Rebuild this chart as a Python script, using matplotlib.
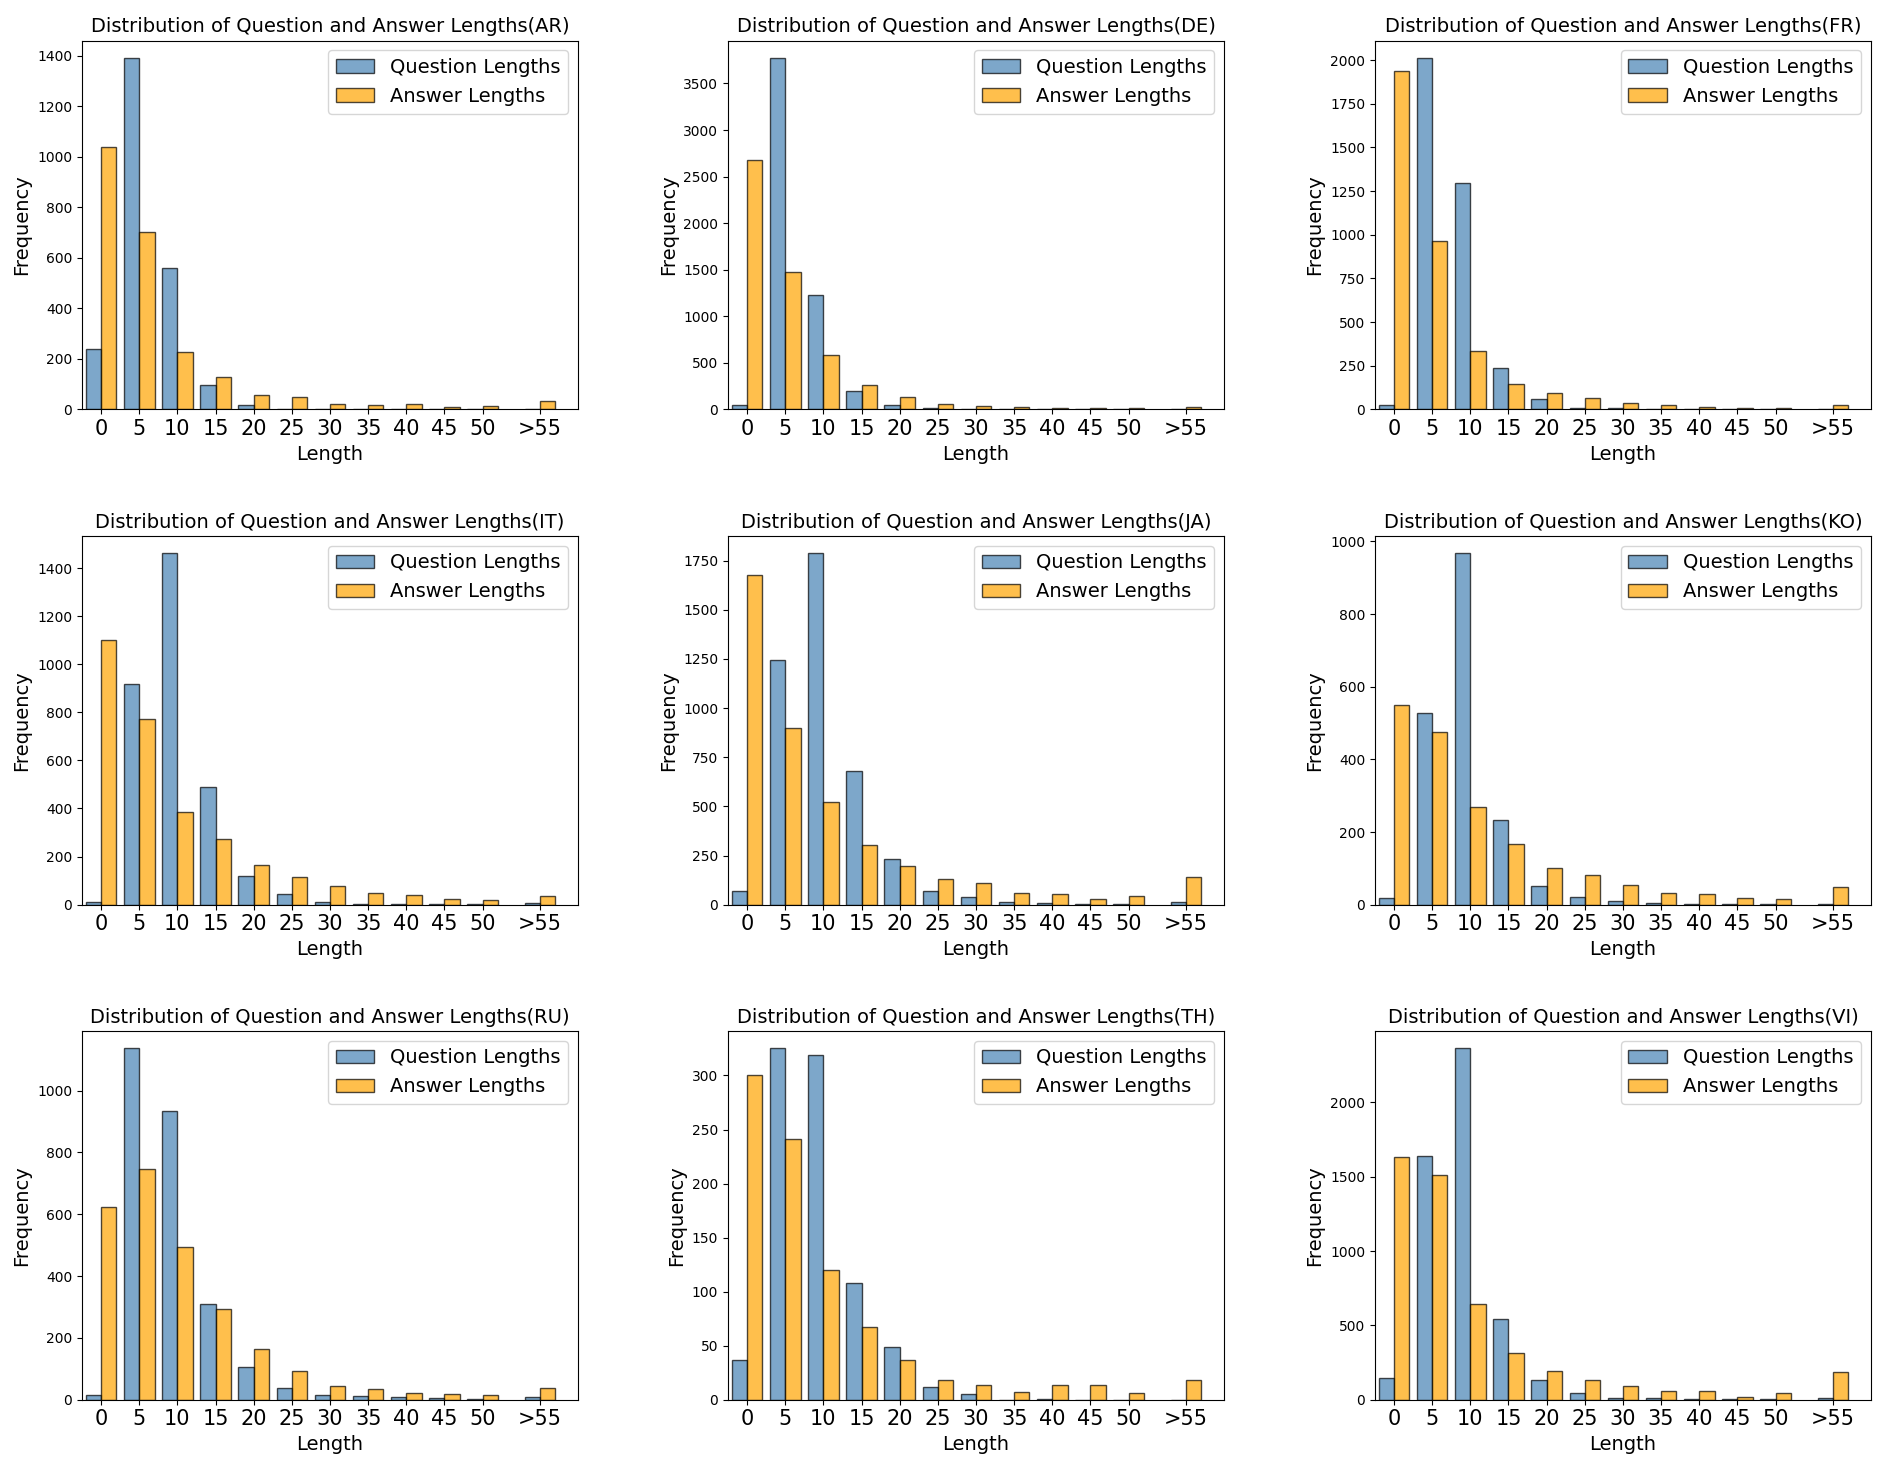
import matplotlib
matplotlib.use("Agg")
import matplotlib.pyplot as plt
import numpy as np

tick_labels = ["0", "5", "10", "15", "20", "25", "30", "35", "40", "45", "50", ">55"]
positions = [0, 5, 10, 15, 20, 25, 30, 35, 40, 45, 50, 57.5]
languages = ["AR", "DE", "FR", "IT", "JA", "KO", "RU", "TH", "VI"]

q_ar = [240, 1390, 559, 96, 16, 3, 2, 1, 2, 1, 1, 1]
a_ar = [1037, 700, 227, 129, 57, 48, 20, 17, 20, 9, 13, 33]
q_de = [43, 3772, 1224, 197, 47, 10, 5, 3, 2, 2, 1, 2]
a_de = [2677, 1471, 583, 258, 129, 61, 36, 25, 14, 14, 12, 20]
q_fr = [23, 2011, 1294, 239, 57, 6, 10, 3, 2, 2, 1, 2]
a_fr = [1935, 964, 334, 145, 95, 63, 34, 23, 13, 10, 9, 25]
q_it = [10, 918, 1461, 488, 119, 43, 12, 3, 4, 1, 1, 5]
a_it = [1100, 772, 386, 274, 163, 113, 79, 50, 42, 25, 21, 35]
q_ja = [69, 1245, 1787, 679, 234, 68, 39, 14, 8, 3, 2, 12]
a_ja = [1675, 900, 523, 302, 195, 130, 110, 61, 53, 27, 42, 142]
q_ko = [18, 527, 967, 234, 52, 20, 10, 5, 2, 3, 2, 2]
a_ko = [550, 475, 269, 168, 102, 82, 55, 33, 28, 17, 15, 48]
q_ru = [16, 1136, 934, 310, 107, 39, 16, 12, 8, 5, 2, 8]
a_ru = [624, 745, 495, 292, 165, 94, 45, 34, 20, 19, 16, 39]
q_th = [37, 325, 319, 108, 49, 12, 5, 0, 1, 0, 0, 0]
a_th = [300, 241, 120, 67, 37, 18, 14, 7, 14, 14, 6, 18]
q_vi = [143, 1639, 2363, 546, 134, 45, 9, 9, 3, 3, 3, 9]
a_vi = [1635, 1514, 645, 316, 193, 130, 94, 60, 58, 20, 45, 186]

questions = [q_ar, q_de, q_fr, q_it, q_ja, q_ko, q_ru, q_th, q_vi]
answers = [a_ar, a_de, a_fr, a_it, a_ja, a_ko, a_ru, a_th, a_vi]

fig = plt.figure(figsize=(18.9, 14.65), dpi=100)

col_left = [0.0434, 0.3852, 0.7275]
row_bottom = [0.7206, 0.3825, 0.0446]
w, h = 0.2624, 0.2517

x = np.array(positions)
for i, lang in enumerate(languages):
    r, c = divmod(i, 3)
    ax = fig.add_axes([col_left[c], row_bottom[r], w, h])
    ax.bar(x - 1, questions[i], width=2, color="steelblue", alpha=0.7,
           edgecolor="black", label="Question Lengths")
    ax.bar(x + 1, answers[i], width=2, color="orange", alpha=0.7,
           edgecolor="black", label="Answer Lengths")
    ax.set_xlim(-2.5, 62.5)
    ax.set_xticks(positions)
    ax.set_xticklabels(tick_labels, fontsize=15)
    ax.tick_params(axis="y", labelsize=10)
    ax.set_xlabel("Length", fontsize=14)
    ax.set_ylabel("Frequency", fontsize=14)
    ax.set_title(f"Distribution of Question and Answer Lengths({lang})", fontsize=14)
    ax.legend(loc="upper right", fontsize=14)

fig.savefig("out.png", dpi=100)
